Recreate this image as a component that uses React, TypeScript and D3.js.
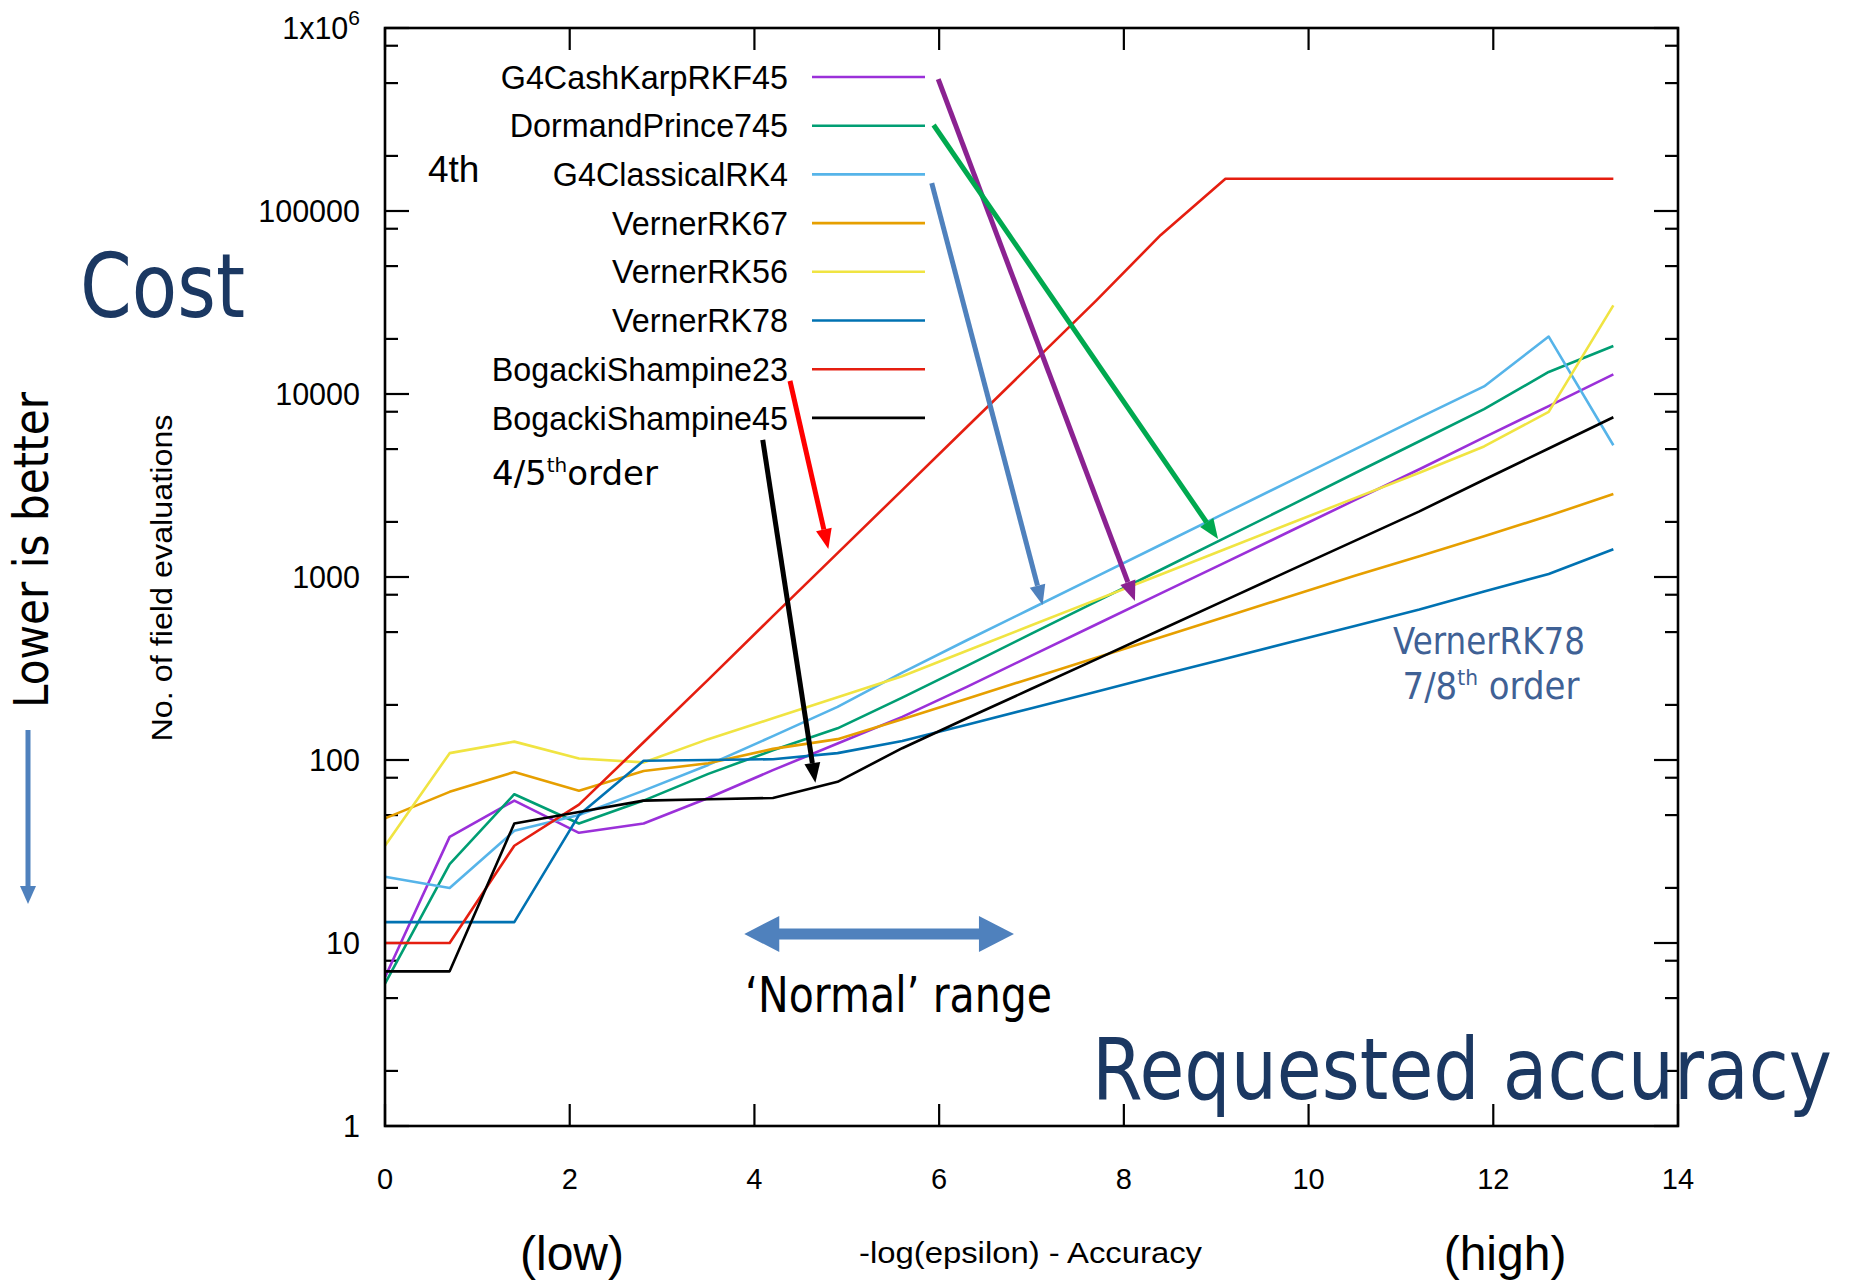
import React, { useEffect, useRef } from 'react';
import * as d3 from 'd3';

// -log(epsilon) sample points
const xValues = [0, 0.7, 1.4, 2.1, 2.8, 3.5, 4.2, 4.9, 5.6, 6.3, 7.0, 7.7, 8.4, 9.1, 9.8, 10.5, 11.2, 11.9, 12.6, 13.3];

// no. of field evaluations per stepper
const cashKarp = [6.5, 38, 60, 40, 45, 62, 88, 123, 172, 251, 372, 550, 813, 1202, 1778, 2630, 3880, 5800, 8590, 12800];
const dormandPrince = [6, 27, 65, 45, 60, 84, 113, 149, 219, 327, 490, 733, 1096, 1641, 2455, 3690, 5520, 8270, 13200, 18300];
const classicalRK4 = [23, 20, 41, 50, 68, 94, 135, 195, 300, 451, 673, 1005, 1500, 2239, 3342, 4977, 7430, 11000, 20600, 5250];
const vernerRK67 = [48, 67, 86, 68, 87, 96, 115, 130, 167, 216, 280, 362, 469, 607, 785, 1016, 1300, 1670, 2160, 2840];
const vernerRK56 = [34, 109, 126, 102, 97, 130, 169, 220, 287, 395, 545, 750, 1033, 1422, 1959, 2698, 3715, 5170, 7980, 30500];
const vernerRK78 = [13, 13, 13, 50, 99, 100, 101, 109, 127, 156, 192, 236, 291, 357, 440, 540, 664, 833, 1038, 1417];
const bogacki23 = [10, 10, 34, 57, 125, 275, 611, 1350, 2985, 6600, 14600, 32400, 74000, 150000, 150000, 150000, 150000, 150000, 150000, 150000];
const bogacki45 = [7, 7, 45, 52, 60, 61, 62, 76, 116, 169, 245, 355, 515, 748, 1086, 1575, 2285, 3400, 5040, 7460];

const seriesNames = ['G4CashKarpRKF45', 'DormandPrince745', 'G4ClassicalRK4', 'VernerRK67', 'VernerRK56', 'VernerRK78', 'BogackiShampine23', 'BogackiShampine45'];
const seriesValues = [cashKarp, dormandPrince, classicalRK4, vernerRK67, vernerRK56, vernerRK78, bogacki23, bogacki45];
const seriesColors = ['#9b30d9', '#009e73', '#56b4e9', '#e69f00', '#f0e442', '#0072b2', '#e51e10', '#000000'];

const xTicks = [0, 2, 4, 6, 8, 10, 12, 14];
const yTicks = [1, 10, 100, 1000, 10000, 100000, 1000000];
const yTickLabels = ['1', '10', '100', '1000', '10000', '100000', '1x10^6'];
const minorSteps = [2, 5, 8];

// annotation arrows, in data coordinates [x, evaluations]
const arrowFrom = [[5.99, 526000], [5.94, 295000], [5.92, 142000], [4.385, 11800], [4.09, 5610]];
const arrowTo = [[8.12, 740], [9.02, 1613], [7.12, 703], [4.8, 1422], [4.66, 75]];
const arrowColors = ['#8b2291', '#00a94f', '#4f81bd', '#ff0000', '#000000'];

const normalRange = [3.89, 6.81];
const normalRangeLevel = 11.2;

const NAVY = '#1b3862';
const ARIAL = '"Liberation Sans", Arial, sans-serif';
const VERDANA = '"DejaVu Sans", Verdana, sans-serif';

function head(x1, y1, x2, y2, len, half) {
  const a = Math.atan2(y2 - y1, x2 - x1);
  const bx = x2 - len * Math.cos(a), by = y2 - len * Math.sin(a);
  const pts = [[x2, y2], [bx + half * Math.sin(a), by - half * Math.cos(a)], [bx - half * Math.sin(a), by + half * Math.cos(a)]];
  return { bx, by, pts: pts.map(p => p.join(',')).join(' ') };
}

export default function App() {
  const ref = useRef<SVGSVGElement>(null);

  useEffect(() => {
    const svg = d3.select(ref.current);
    svg.selectAll('*').remove();

    const left = 385, right = 1678, top = 28, bottom = 1126;
    const x = d3.scaleLinear().domain([0, 14]).range([left, right]);
    const y = d3.scaleLog().domain([1, 1e6]).range([bottom, top]);

    // ticks (gnuplot style, mirrored, inward)
    const g = svg.append('g').attr('stroke', '#000').attr('stroke-width', 2.2);
    xTicks.forEach(t => {
      g.append('line').attr('x1', x(t)).attr('x2', x(t)).attr('y1', bottom).attr('y2', bottom - 22);
      g.append('line').attr('x1', x(t)).attr('x2', x(t)).attr('y1', top).attr('y2', top + 22);
    });
    yTicks.forEach(t => {
      g.append('line').attr('x1', left).attr('x2', left + 24).attr('y1', y(t)).attr('y2', y(t));
      g.append('line').attr('x1', right).attr('x2', right - 24).attr('y1', y(t)).attr('y2', y(t));
    });
    yTicks.slice(0, -1).forEach(d => minorSteps.forEach(m => {
      const v = d * m;
      g.append('line').attr('x1', left).attr('x2', left + 13).attr('y1', y(v)).attr('y2', y(v));
      g.append('line').attr('x1', right).attr('x2', right - 13).attr('y1', y(v)).attr('y2', y(v));
    }));

    // tick labels
    xTicks.forEach(t => {
      svg.append('text').attr('x', x(t)).attr('y', 1189).attr('text-anchor', 'middle')
        .attr('font-family', ARIAL).attr('font-size', 29).text(t);
    });
    yTickLabels.forEach((lab, i) => {
      const t = svg.append('text').attr('x', 360).attr('y', y(yTicks[i])).attr('dy', '0.36em')
        .attr('text-anchor', 'end').attr('font-family', ARIAL).attr('font-size', 30.5);
      if (lab.includes('^')) {
        const [base, exp] = lab.split('^');
        t.append('tspan').text(base);
        t.append('tspan').attr('font-size', 21).attr('dy', -14).text(exp);
      } else {
        t.text(lab);
      }
    });

    // data lines
    const line = d3.line<number>().x((_, i) => x(xValues[i])).y(d => y(d));
    seriesValues.forEach((vals, i) => {
      svg.append('path').datum(vals).attr('d', line).attr('fill', 'none')
        .attr('stroke', seriesColors[i]).attr('stroke-width', 2.6).attr('stroke-linejoin', 'round');
    });

    // legend
    seriesNames.forEach((name, i) => {
      const ly = 77 + i * 48.7;
      svg.append('text').attr('x', 788).attr('y', ly).attr('dy', '0.36em').attr('text-anchor', 'end')
        .attr('font-family', ARIAL).attr('font-size', 32.3).text(name);
      svg.append('line').attr('x1', 812).attr('x2', 925).attr('y1', ly).attr('y2', ly)
        .attr('stroke', seriesColors[i]).attr('stroke-width', 2.6);
    });

    // frame
    svg.append('rect').attr('x', left).attr('y', top).attr('width', right - left).attr('height', bottom - top)
      .attr('fill', 'none').attr('stroke', '#000').attr('stroke-width', 2.6);

    // annotation arrows
    arrowFrom.forEach((f, i) => {
      const x1 = x(f[0]), y1 = y(f[1]), x2 = x(arrowTo[i][0]), y2 = y(arrowTo[i][1]);
      const h = head(x1, y1, x2, y2, 20, 8);
      svg.append('line').attr('x1', x1).attr('y1', y1).attr('x2', h.bx).attr('y2', h.by)
        .attr('stroke', arrowColors[i]).attr('stroke-width', 5);
      svg.append('polygon').attr('points', h.pts).attr('fill', arrowColors[i]);
    });

    // 'Normal' range double arrow
    const nx1 = x(normalRange[0]), nx2 = x(normalRange[1]), ny = y(normalRangeLevel);
    svg.append('polygon').attr('fill', '#4f81bd').attr('points', [
      [nx1, ny], [nx1 + 35, ny - 18], [nx1 + 35, ny - 5.5], [nx2 - 35, ny - 5.5], [nx2 - 35, ny - 18],
      [nx2, ny], [nx2 - 35, ny + 18], [nx2 - 35, ny + 5.5], [nx1 + 35, ny + 5.5], [nx1 + 35, ny + 18],
    ].map(p => p.join(',')).join(' '));

    // text annotations
    svg.append('text').attr('x', 428).attr('y', 182).attr('font-family', ARIAL).attr('font-size', 37).text('4th');

    const t45 = svg.append('text').attr('x', 492).attr('y', 485).attr('font-family', VERDANA).attr('font-size', 34);
    t45.append('tspan').text('4/5');
    t45.append('tspan').attr('font-size', 20).attr('dy', -13).text('th');
    t45.append('tspan').attr('dy', 13).text('order');

    svg.append('text').attr('x', 1489).attr('y', 654).attr('text-anchor', 'middle').attr('font-family', VERDANA)
      .attr('font-size', 37).attr('fill', '#3f6195').attr('textLength', 192).attr('lengthAdjust', 'spacingAndGlyphs')
      .text('VernerRK78');
    const t78 = svg.append('text').attr('x', 1491).attr('y', 699).attr('text-anchor', 'middle').attr('font-family', VERDANA)
      .attr('font-size', 37).attr('fill', '#3f6195').attr('textLength', 177).attr('lengthAdjust', 'spacingAndGlyphs');
    t78.append('tspan').text('7/8');
    t78.append('tspan').attr('font-size', 22).attr('dy', -14).text('th');
    t78.append('tspan').attr('dy', 14).text(' order');

    svg.append('text').attr('x', 745).attr('y', 1012).attr('font-family', VERDANA).attr('font-size', 49)
      .attr('textLength', 307).attr('lengthAdjust', 'spacingAndGlyphs').text('\u2018Normal\u2019 range');

    svg.append('text').attr('x', 80).attr('y', 317).attr('font-family', VERDANA).attr('font-size', 89)
      .attr('fill', NAVY).attr('textLength', 165).attr('lengthAdjust', 'spacingAndGlyphs').text('Cost');

    svg.append('text').attr('x', 1092).attr('y', 1099).attr('font-family', VERDANA).attr('font-size', 85)
      .attr('fill', NAVY).attr('textLength', 740).attr('lengthAdjust', 'spacingAndGlyphs').text('Requested accuracy');

    svg.append('text').attr('transform', 'translate(48,550) rotate(-90)').attr('text-anchor', 'middle')
      .attr('font-family', VERDANA).attr('font-size', 48).attr('textLength', 316).attr('lengthAdjust', 'spacingAndGlyphs')
      .text('Lower is better');

    const dh = head(28, 730, 28, 904, 18, 8);
    svg.append('line').attr('x1', 28).attr('y1', 730).attr('x2', dh.bx).attr('y2', dh.by)
      .attr('stroke', '#4f81bd').attr('stroke-width', 5);
    svg.append('polygon').attr('points', dh.pts).attr('fill', '#4f81bd');

    svg.append('text').attr('transform', 'translate(172,578) rotate(-90)').attr('text-anchor', 'middle')
      .attr('font-family', ARIAL).attr('font-size', 30).attr('textLength', 327).attr('lengthAdjust', 'spacingAndGlyphs')
      .text('No. of field evaluations');

    svg.append('text').attr('x', 859).attr('y', 1263).attr('font-family', ARIAL).attr('font-size', 30)
      .attr('textLength', 343).attr('lengthAdjust', 'spacingAndGlyphs').text('-log(epsilon) - Accuracy');

    svg.append('text').attr('x', 572).attr('y', 1270).attr('text-anchor', 'middle').attr('font-family', ARIAL)
      .attr('font-size', 48).text('(low)');
    svg.append('text').attr('x', 1505).attr('y', 1270).attr('text-anchor', 'middle').attr('font-family', ARIAL)
      .attr('font-size', 48).text('(high)');
  }, []);

  return (
    <svg ref={ref} width={1853} height={1280}
      style={{ position: 'absolute', left: 0, top: 0, background: '#fff', display: 'block' }} />
  );
}
